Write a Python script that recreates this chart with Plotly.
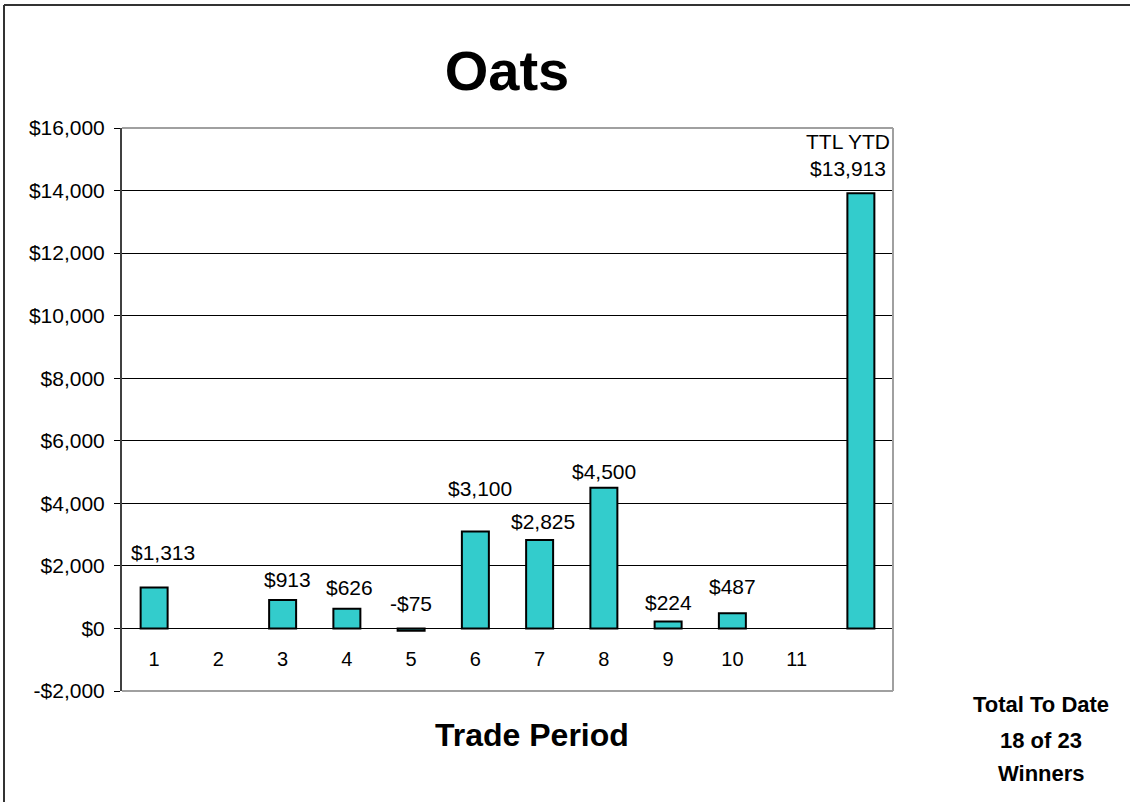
import plotly.graph_objects as go

# ---- data ----
periods = [1, 2, 3, 4, 5, 6, 7, 8, 9, 10, 11, 12]
period_labels = ["1", "2", "3", "4", "5", "6", "7", "8", "9", "10", "11", ""]
profits = [1313, None, 913, 626, -75, 3100, 2825, 4500, 224, 487, None, 13913]
total_prefix = "TTL YTD"
y_ticks = [-2000, 0, 2000, 4000, 6000, 8000, 10000, 12000, 14000, 16000]
y_tick_labels = ["-$2,000", "$0", "$2,000", "$4,000", "$6,000", "$8,000",
                 "$10,000", "$12,000", "$14,000", "$16,000"]
title_text = "Oats"
x_title = "Trade Period"
side_note = ["Total To Date", "18 of 23", "Winners"]

# ---- style (label offsets in px) ----
label_yshift = [35, 0, 20, 21, 27, 43, 19, 16, 19, 27, 0, 38]
label_xshift = [9, 0, 5, 3, 0, 5, 3, 0, 0, 0, 0, -13]

FONT = "Liberation Sans, Arial, sans-serif"
BAR = "#33CCCC"

def fmt(v):
    return ("-$" if v < 0 else "$") + f"{abs(v):,}"

fig = go.Figure()
fig.add_trace(go.Bar(
    x=periods, y=profits, width=0.42,
    marker=dict(color=BAR, line=dict(color="black", width=2)),
    hoverinfo="skip",
))

ann = []
for i, (p, v) in enumerate(zip(periods, profits)):
    if v is None:
        continue
    txt = fmt(v)
    if i == len(periods) - 1:
        txt = total_prefix + "<br>" + txt
    ann.append(dict(x=p, y=v, xref="x", yref="y",
                    text=txt, showarrow=False, yanchor="middle",
                    xshift=label_xshift[i], yshift=label_yshift[i],
                    font=dict(family=FONT, size=21, color="black")))

ann.append(dict(x=0.532, y=-0.078, xref="paper", yref="paper", text=x_title,
                showarrow=False, yanchor="middle", xanchor="center",
                font=dict(family=FONT, size=32, color="black", weight="bold")))
note_y = [704, 740, 773]
for line, py in zip(side_note, note_y):
    ann.append(dict(x=(1041 - 122) / 771, y=(691 - py) / 563, xref="paper", yref="paper",
                    text=line, showarrow=False, yanchor="middle", xanchor="center",
                    font=dict(family=FONT, size=22, color="black", weight="bold")))

gray = "#A0A0A0"
shapes = [
    dict(type="line", xref="paper", yref="paper", x0=0, x1=1, y0=1, y1=1,
         line=dict(color=gray, width=2), layer="above"),
    dict(type="line", xref="paper", yref="paper", x0=1, x1=1, y0=0, y1=1,
         line=dict(color=gray, width=2), layer="above"),
    dict(type="line", xref="paper", yref="paper", x0=0, x1=1, y0=0, y1=0,
         line=dict(color=gray, width=2), layer="above"),
    # outer frame
    dict(type="line", xref="paper", yref="paper", x0=(4 - 122) / 771, x1=(4 - 122) / 771,
         y0=-0.3, y1=(691 - 5) / 563, line=dict(color="#333333", width=2)),
    dict(type="line", xref="paper", yref="paper", x0=(4 - 122) / 771, x1=1.4,
         y0=(691 - 5) / 563, y1=(691 - 5) / 563, line=dict(color="#333333", width=2)),
]

fig.update_layout(
    width=1130, height=802,
    margin=dict(l=122, r=237, t=128, b=111),
    paper_bgcolor="white", plot_bgcolor="white",
    showlegend=False,
    title=dict(text=title_text, x=507 / 1130, xref="container", xanchor="center",
               y=1 - 70 / 802, yanchor="middle",
               font=dict(family=FONT, size=56, color="black", weight="bold")),
    xaxis=dict(range=[0.5, 12.5], tickmode="array", tickvals=periods, ticktext=period_labels,
               anchor="free", position=2000 / 18000, showline=False, showgrid=False,
               zeroline=False, ticks="", ticklabelstandoff=17,
               tickfont=dict(family=FONT, size=20, color="black")),
    yaxis=dict(range=[-2000, 16000], tickmode="array", tickvals=y_ticks, ticktext=y_tick_labels,
               showgrid=True, gridcolor="black", gridwidth=1, zeroline=False,
               showline=True, linecolor="#404040", linewidth=2,
               ticks="outside", ticklen=6, tickcolor="black", tickwidth=1,
               ticklabelstandoff=5,
               tickfont=dict(family=FONT, size=21, color="black")),
    annotations=ann,
    shapes=shapes,
)

fig.write_html("out.html", config={"displayModeBar": False},
               post_script="document.body.style.margin='0px';document.body.style.overflow='hidden';")
